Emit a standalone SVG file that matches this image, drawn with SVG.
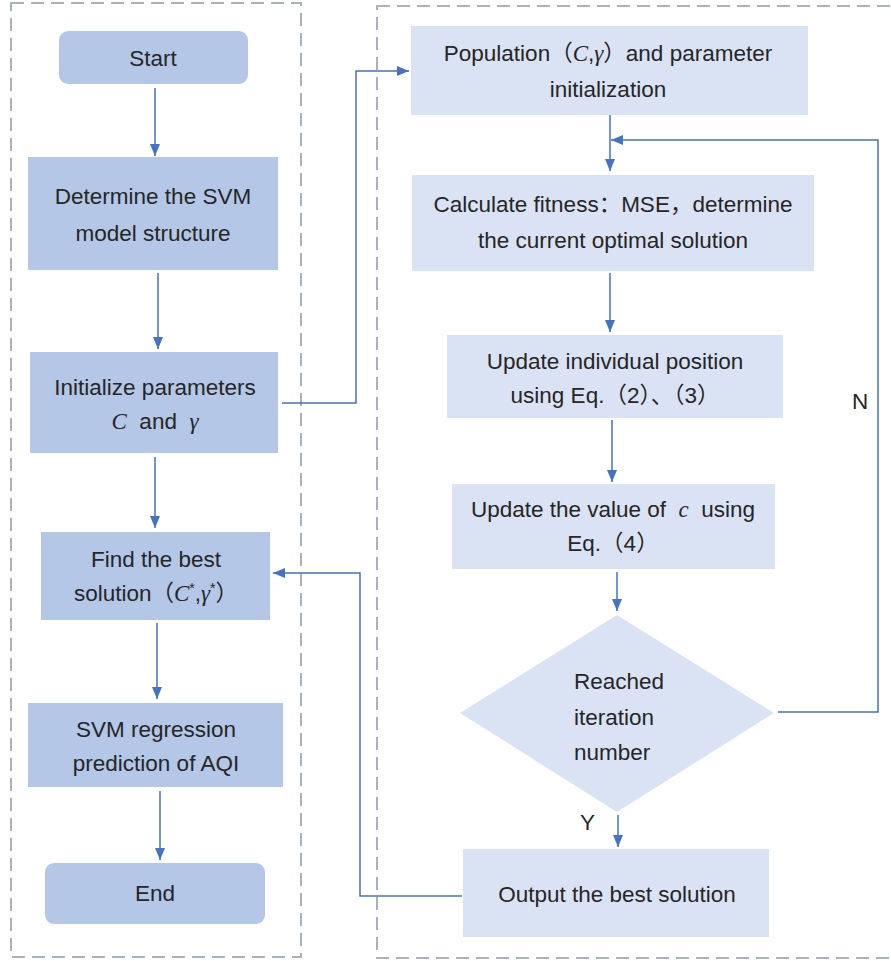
<svg xmlns="http://www.w3.org/2000/svg" width="891" height="961" viewBox="0 0 891 961">
<style>
.frame{fill:none;stroke:#A7B1C2;stroke-width:2;stroke-dasharray:13 7}
.dark{fill:#B4C7E7}
.light{fill:#DAE3F3}
.t{font-family:"Liberation Sans","Noto Sans CJK SC",sans-serif;font-size:22.5px;fill:#262626;text-anchor:middle}
.tl{font-family:"Liberation Sans","Noto Sans CJK SC",sans-serif;font-size:22.5px;fill:#262626}
.m{font-family:"Liberation Serif","DejaVu Serif",serif;font-style:italic;font-size:23px}
.conn path{fill:none;stroke:#4472C4;stroke-width:1.5}
</style>
<defs>
<marker id="ah" viewBox="0 0 12 10" refX="12" refY="5" markerWidth="12" markerHeight="10" markerUnits="userSpaceOnUse" orient="auto">
<path d="M0,0 L12,5 L0,10 Z" fill="#4472C4"/>
</marker>
</defs>
<rect width="891" height="961" fill="#FFFFFF"/>
<rect class="frame" x="11" y="3" width="290" height="954"/>
<rect class="frame" x="377" y="6" width="530" height="952"/>

<g id="start"><rect class="dark" x="59" y="31" width="189" height="53" rx="9"/><text class="t" x="153" y="66">Start</text></g>
<g id="determine"><rect class="dark" x="28" y="157" width="250" height="113"/><text class="t" x="153" y="204">Determine the SVM</text><text class="t" x="153" y="241">model structure</text></g>
<g id="initialize"><rect class="dark" x="30" y="352" width="248" height="101"/><text class="t" x="155" y="395">Initialize parameters</text><text class="t" x="155" y="429"><tspan class="m">C</tspan>&#160;&#160;and&#160;&#160;<tspan class="m">γ</tspan></text></g>
<g id="find"><rect class="dark" x="41" y="532" width="229" height="88"/><text class="t" x="156" y="567">Find the best</text><text class="t" x="156" y="601">solution（<tspan class="m">C</tspan><tspan font-size="14" dy="-8">*</tspan><tspan dy="8">,</tspan><tspan class="m">γ</tspan><tspan font-size="14" dy="-8">*</tspan><tspan dy="8">）</tspan></text></g>
<g id="svm"><rect class="dark" x="28" y="703" width="255" height="84"/><text class="t" x="156" y="737">SVM regression</text><text class="t" x="156" y="771">prediction of AQI</text></g>
<g id="end"><rect class="dark" x="45" y="863" width="220" height="61" rx="9"/><text class="t" x="155" y="901">End</text></g>

<g id="population"><rect class="light" x="411" y="26" width="397" height="89"/><text class="t" x="608" y="61">Population（<tspan class="m">C</tspan>,<tspan class="m">γ</tspan>）and parameter</text><text class="t" x="608" y="97">initialization</text></g>
<g id="fitness"><rect class="light" x="412" y="175" width="402" height="96"/><text class="t" x="613" y="212">Calculate fitness：MSE，determine</text><text class="t" x="613" y="248">the current optimal solution</text></g>
<g id="update-position"><rect class="light" x="447" y="335" width="336" height="83"/><text class="t" x="615" y="369">Update individual position</text><text class="t" x="615" y="403">using Eq.（2）、（3）</text></g>
<g id="update-c"><rect class="light" x="452" y="484" width="323" height="85"/><text class="t" x="613" y="517">Update the value of&#160;&#160;<tspan class="m">c</tspan>&#160;&#160;using</text><text class="t" x="613" y="551">Eq.（4）</text></g>
<g id="decision"><polygon class="light" points="617,615 774,713 617,812 460,713"/><text class="tl" x="574" y="689">Reached</text><text class="tl" x="574" y="725">iteration</text><text class="tl" x="574" y="760">number</text></g>
<g id="output"><rect class="light" x="463" y="849" width="306" height="88"/><text class="t" x="617" y="902">Output the best solution</text></g>

<g id="connectors" class="conn">
<path d="M155,88 V156" marker-end="url(#ah)"/>
<path d="M158,273 V349" marker-end="url(#ah)"/>
<path d="M155,457 V528" marker-end="url(#ah)"/>
<path d="M157,623 V699" marker-end="url(#ah)"/>
<path d="M160,791 V860" marker-end="url(#ah)"/>
<path d="M282,403 H356 V71 H409" marker-end="url(#ah)"/>
<path d="M610,115 V171" marker-end="url(#ah)"/>
<path d="M778,712 H878 V140 H611" marker-end="url(#ah)"/>
<path d="M610,273 V332" marker-end="url(#ah)"/>
<path d="M612,420 V482" marker-end="url(#ah)"/>
<path d="M617,572 V611" marker-end="url(#ah)"/>
<path d="M618,815 V847" marker-end="url(#ah)"/>
<path d="M462,896 H360 V573 H273" marker-end="url(#ah)"/>
</g>
<text class="tl" x="852" y="409">N</text>
<text class="tl" x="580" y="830">Y</text>
</svg>
